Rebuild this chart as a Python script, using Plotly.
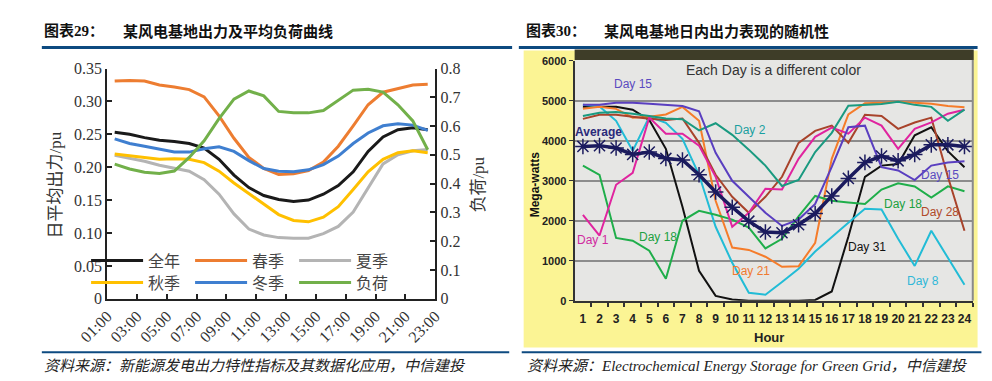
import plotly.graph_objects as go

W, H = 992, 381

# ---------------- Left chart data (图表29) ----------------
hours_left = [1.5, 2.5, 3.5, 4.5, 5.5, 6.5, 7.5, 8.5, 9.5, 10.5, 11.5,
              12.5, 13.5, 14.5, 15.5, 16.5, 17.5, 18.5, 19.5, 20.5, 21.5, 22.5]
left_tickvals = [1, 3, 5, 7, 9, 11, 13, 15, 17, 19, 21, 23]
left_ticktext = ["01:00", "03:00", "05:00", "07:00", "09:00", "11:00",
                 "13:00", "15:00", "17:00", "19:00", "21:00", "23:00"]
y1_tickvals = [0, 0.05, 0.10, 0.15, 0.20, 0.25, 0.30, 0.35]
y1_ticktext = ["0", "0.05", "0.10", "0.15", "0.20", "0.25", "0.30", "0.35"]
y2_tickvals = [0, 0.1, 0.2, 0.3, 0.4, 0.5, 0.6, 0.7, 0.8]
y2_ticktext = ["0", "0.1", "0.2", "0.3", "0.4", "0.5", "0.6", "0.7", "0.8"]

year_all = [0.253, 0.250, 0.245, 0.241, 0.239, 0.236, 0.229, 0.212, 0.188, 0.169, 0.157,
            0.151, 0.148, 0.150, 0.159, 0.172, 0.193, 0.224, 0.246, 0.257, 0.260, 0.257]
spring = [0.331, 0.332, 0.331, 0.325, 0.322, 0.318, 0.307, 0.278, 0.244, 0.215, 0.198,
          0.189, 0.190, 0.195, 0.208, 0.232, 0.263, 0.295, 0.314, 0.320, 0.325, 0.326]
summer = [0.218, 0.214, 0.209, 0.203, 0.199, 0.194, 0.181, 0.159, 0.129, 0.106, 0.097,
          0.093, 0.092, 0.092, 0.099, 0.110, 0.132, 0.169, 0.205, 0.219, 0.225, 0.227]
autumn = [0.220, 0.217, 0.214, 0.212, 0.213, 0.212, 0.207, 0.194, 0.176, 0.160, 0.143,
          0.128, 0.119, 0.117, 0.124, 0.140, 0.166, 0.193, 0.212, 0.222, 0.225, 0.222]
winter = [0.243, 0.236, 0.232, 0.227, 0.223, 0.223, 0.228, 0.231, 0.224, 0.210, 0.198,
          0.194, 0.193, 0.196, 0.204, 0.217, 0.236, 0.252, 0.263, 0.266, 0.264, 0.256]
load = [0.468, 0.451, 0.440, 0.435, 0.444, 0.491, 0.549, 0.626, 0.694, 0.722, 0.705,
        0.651, 0.646, 0.646, 0.654, 0.691, 0.725, 0.728, 0.718, 0.674, 0.618, 0.518]

# ---------------- Right chart data (图表30) ----------------
hours_right = [1, 2, 3, 4, 5, 6, 7, 8, 9, 10, 11, 12,
               13, 14, 15, 16, 17, 18, 19, 20, 21, 22, 23, 24]
y3_tickvals = [0, 1000, 2000, 3000, 4000, 5000, 6000]
day1 = [2150, 1630, 2900, 3200, 4580, 4180, 4180, 3880, 3100, 1850, 2200, 2800,
        2780, 3550, 4100, 4330, 4180, 4580, 4380, 3800, 4300, 4460, 4680, 4780]
day2 = [4620, 4700, 4720, 4680, 4620, 4560, 4540, 4260, 4440, 4150, 3780, 3380,
        2870, 3020, 3720, 4200, 4880, 4900, 4920, 4980, 4900, 4850, 4500, 4780]
day8 = [4900, 4860, 4500, 3750, 4600, 4450, 4050, 3150, 1850, 950, 200, 150,
        470, 800, 1230, 1600, 1950, 2300, 2280, 1550, 870, 1750, 1070, 400]
day15 = [4900, 4900, 4950, 4950, 4930, 4900, 4870, 4740, 3700, 3000, 2600, 2200,
         1870, 2030, 2420, 3350, 4340, 4380, 3340, 3260, 3020, 3380, 3460, 3490]
day18 = [3380, 3150, 1570, 1500, 1250, 550, 2000, 2250, 2150, 2030, 1830, 1310,
         1550, 2110, 2620, 2500, 2460, 2420, 2780, 2940, 2860, 2580, 2860, 2740]
day21 = [4800, 4850, 4800, 4580, 4600, 4660, 4850, 4500, 2500, 1330, 1270, 1100,
         850, 860, 1450, 3550, 4660, 4940, 4950, 4980, 4950, 4930, 4870, 4840]
day28 = [4550, 4650, 4650, 4600, 4550, 4520, 4560, 3950, 3150, 2600, 2200, 2600,
         3100, 3950, 4250, 4380, 3950, 4650, 4620, 4300, 4460, 4580, 3100, 1750]
day31 = [4850, 4850, 4850, 4780, 4520, 3800, 2350, 750, 120, 30, 0, 0,
         0, 0, 20, 230, 1600, 3100, 3380, 3420, 4140, 4340, 3740, 3340]
average = [3860, 3880, 3820, 3660, 3720, 3560, 3520, 3150, 2720, 2340, 1990, 1720,
           1700, 1900, 2180, 2620, 3060, 3460, 3620, 3500, 3660, 3900, 3900, 3860]

SERIF = "Liberation Serif, Times New Roman, serif"
CJK = "Noto Sans CJK SC, sans-serif"
MIX = "Liberation Serif, Noto Sans CJK SC, serif"
SANS = "Liberation Sans Narrow, Liberation Sans, Arial, sans-serif"


def px(x):
    return x / W


def py(y):
    return 1 - y / H


fig = go.Figure()

# left chart series
left_series = [
    ("全年", year_all, "#1a1a1a", "y", "legend"),
    ("春季", spring, "#ED7D31", "y", "legend"),
    ("夏季", summer, "#B4B4B4", "y", "legend"),
    ("秋季", autumn, "#FFC000", "y", "legend2"),
    ("冬季", winter, "#3F7FD0", "y", "legend2"),
    ("负荷", load, "#72B04A", "y2", "legend2"),
]
for name, vals, color, yax, lg in left_series:
    fig.add_trace(go.Scatter(x=hours_left, y=vals, name=name, mode="lines",
                             line=dict(color=color, width=3),
                             xaxis="x", yaxis=yax, legend=lg))

# right chart series
right_series = [
    (day31, "#111111"),
    (day8, "#22BCD6"),
    (day21, "#F57C2A"),
    (day18, "#1FAE4A"),
    (day28, "#A8432B"),
    (day1, "#E0249F"),
    (day2, "#1A9A80"),
    (day15, "#5A3FC0"),
]
for vals, color in right_series:
    fig.add_trace(go.Scatter(x=hours_right, y=vals, mode="lines",
                             line=dict(color=color, width=2),
                             xaxis="x2", yaxis="y3", showlegend=False))
fig.add_trace(go.Scatter(x=hours_right, y=average, mode="lines+markers",
                         line=dict(color="#1B1B5E", width=3.5),
                         marker=dict(symbol="asterisk-open", size=13,
                                     line=dict(color="#5050A8", width=1.5)),
                         xaxis="x2", yaxis="y3", showlegend=False))

shapes = [
    # yellow backdrop
    dict(type="rect", xref="paper", yref="paper", x0=px(505), x1=px(977),
         y0=py(347), y1=py(36), fillcolor="#FBF494", line=dict(width=0), layer="below"),
    # gray plot area
    dict(type="rect", xref="paper", yref="paper", x0=px(558), x1=px(972),
         y0=py(298), y1=py(46), fillcolor="#E6E6E4", line=dict(width=0), layer="below"),
    # dark photo band at top
    dict(type="rect", xref="paper", yref="paper", x0=px(558), x1=px(973),
         y0=py(46), y1=py(35), fillcolor="#3E3D28", line=dict(width=0), layer="below"),
    # right border of right plot
    dict(type="line", xref="paper", yref="paper", x0=px(972), x1=px(972),
         y0=py(298), y1=py(46), line=dict(color="#8A8A8A", width=2)),
    # title rules
    dict(type="line", xref="paper", yref="paper", x0=px(4), x1=px(493),
         y0=py(33), y1=py(33), line=dict(color="#0D4A80", width=3)),
    dict(type="line", xref="paper", yref="paper", x0=px(500), x1=px(977),
         y0=py(33), y1=py(33), line=dict(color="#0D4A80", width=3)),
    # bottom rules
    dict(type="line", xref="paper", yref="paper", x0=px(4), x1=px(490),
         y0=py(352), y1=py(352), line=dict(color="#0D4A80", width=2)),
    dict(type="line", xref="paper", yref="paper", x0=px(503), x1=px(981),
         y0=py(352), y1=py(352), line=dict(color="#0D4A80", width=2)),
]

annotations = [
    dict(text="<b>图表29：</b>", x=px(4), y=py(15), xanchor="left", yanchor="middle",
         font=dict(family=MIX, size=15, color="#111")),
    dict(text="<b>某风电基地出力及平均负荷曲线</b>", x=px(86), y=py(15), xanchor="left",
         yanchor="middle", font=dict(family=CJK, size=15, color="#111")),
    dict(text="<b>图表30：</b>", x=px(505), y=py(15), xanchor="left", yanchor="middle",
         font=dict(family=MIX, size=15, color="#111")),
    dict(text="<b>某风电基地日内出力表现的随机性</b>", x=px(586), y=py(15), xanchor="left",
         yanchor="middle", font=dict(family=CJK, size=15, color="#111")),
    dict(text="<i>资料来源：新能源发电出力特性指标及其数据化应用，中信建投</i>", x=px(4), y=py(366),
         xanchor="left", yanchor="middle", font=dict(family=MIX, size=15, color="#222")),
    dict(text="<i>资料来源：Electrochemical Energy Storage for Green Grid，中信建投</i>",
         x=px(506), y=py(366), xanchor="left", yanchor="middle",
         font=dict(family=MIX, size=15, color="#222")),
    # left chart axis titles
    dict(text="日平均出力/pu", x=px(18), y=py(177), textangle=-90, xanchor="center",
         yanchor="middle", font=dict(family=MIX, size=17, color="#333")),
    dict(text="负荷/pu", x=px(458), y=py(176), textangle=-90, xanchor="center",
         yanchor="middle", font=dict(family=MIX, size=17, color="#333")),
    # right chart axis titles
    dict(text="<b>Mega-watts</b>", x=px(517), y=py(176), textangle=-90, xanchor="center",
         yanchor="middle", font=dict(family=SANS, size=12, color="#111")),
    dict(text="<b>Hour</b>", x=px(760), y=py(337), xanchor="center", yanchor="middle",
         font=dict(family=SANS, size=13, color="#222")),
]

right_labels = [
    ("Each Day is a different color", 12.5, 5765, "#333333", 14, False),
    ("Day 15", 4.0, 5410, "#5A4BC0", 12, False),
    ("Average", 1.93, 4230, "#2A2A7A", 12, True),
    ("Day 2", 11.05, 4280, "#1AA0A0", 12, False),
    ("Day 15", 22.55, 3140, "#5A4BC0", 12, False),
    ("Day 18", 20.3, 2420, "#20A040", 12, False),
    ("Day 28", 22.55, 2225, "#B04A2A", 12, False),
    ("Day 1", 1.58, 1510, "#D02AA0", 12, False),
    ("Day 18", 5.53, 1600, "#20A040", 12, False),
    ("Day 21", 11.16, 740, "#F07A30", 12, False),
    ("Day 31", 18.13, 1340, "#111111", 12, False),
    ("Day 8", 21.5, 500, "#30B8D8", 12, False),
]
for txt, hx, hy, col, size, bold in right_labels:
    annotations.append(dict(text=("<b>%s</b>" % txt) if bold else txt, x=hx, y=hy,
                            xref="x2", yref="y3", showarrow=False,
                            font=dict(family=SANS if txt.startswith("Day") or txt == "Average"
                                      else "Liberation Sans, Arial, sans-serif",
                                      size=size, color=col)))

for a in annotations:
    a.setdefault("xref", "paper")
    a.setdefault("yref", "paper")
    a.setdefault("showarrow", False)

legend_common = dict(orientation="h", xanchor="left", yanchor="middle",
                     entrywidth=37, entrywidthmode="pixels", itemwidth=52,
                     bgcolor="rgba(0,0,0,0)", traceorder="normal",
                     font=dict(family=CJK, size=16, color="#444"))

fig.update_layout(
    width=W, height=H, autosize=False,
    margin=dict(l=0, r=0, t=0, b=0),
    paper_bgcolor="white", plot_bgcolor="rgba(0,0,0,0)",
    shapes=shapes, annotations=annotations,
    xaxis=dict(domain=[px(72), px(413)], range=[1, 23], anchor="y",
               tickvals=left_tickvals, ticktext=left_ticktext, tickangle=-45,
               ticks="inside", ticklen=5, tickwidth=2, tickcolor="#222",
               showline=True, linecolor="#222", linewidth=2,
               showgrid=False, zeroline=False,
               tickfont=dict(family=SERIF, size=16, color="#333")),
    yaxis=dict(domain=[py(296), py(55)], range=[0, 0.35], anchor="x",
               tickvals=y1_tickvals, ticktext=y1_ticktext,
               ticks="inside", ticklen=5, tickwidth=2, tickcolor="#222",
               showline=True, linecolor="#222", linewidth=2,
               showgrid=False, zeroline=False,
               tickfont=dict(family=SERIF, size=16, color="#333")),
    yaxis2=dict(overlaying="y", side="right", range=[0, 0.8], anchor="x",
                tickvals=y2_tickvals, ticktext=y2_ticktext,
                ticks="inside", ticklen=5, tickwidth=2, tickcolor="#222",
                showline=True, linecolor="#222", linewidth=2,
                showgrid=False, zeroline=False,
                tickfont=dict(family=SERIF, size=16, color="#333")),
    xaxis2=dict(domain=[px(558), px(972)], range=[0.5, 24.5], anchor="y3",
                tickvals=hours_right, ticks="", showline=True, linecolor="#333",
                linewidth=2, showgrid=False, zeroline=False,
                ticklabelstandoff=6,
                minor=dict(tickvals=[h + 0.5 for h in hours_right], ticks="outside",
                           ticklen=4, tickwidth=1.5, tickcolor="#333", showgrid=False),
                tickfont=dict(family=SANS, size=12, color="#222", weight="bold")),
    yaxis3=dict(domain=[py(298), py(47)], range=[0, 6000], anchor="x2",
                tickvals=y3_tickvals, ticks="outside", ticklen=4, tickcolor="#333",
                showline=True, linecolor="#333", linewidth=2,
                showgrid=True, gridcolor="#8C8C8C", gridwidth=2, zeroline=False,
                tickfont=dict(family=SANS, size=11, color="#222", weight="bold")),
    legend=dict(x=px(50), y=py(256), **legend_common),
    legend2=dict(x=px(50), y=py(279), **legend_common),
)

fig.write_html("out.html")
